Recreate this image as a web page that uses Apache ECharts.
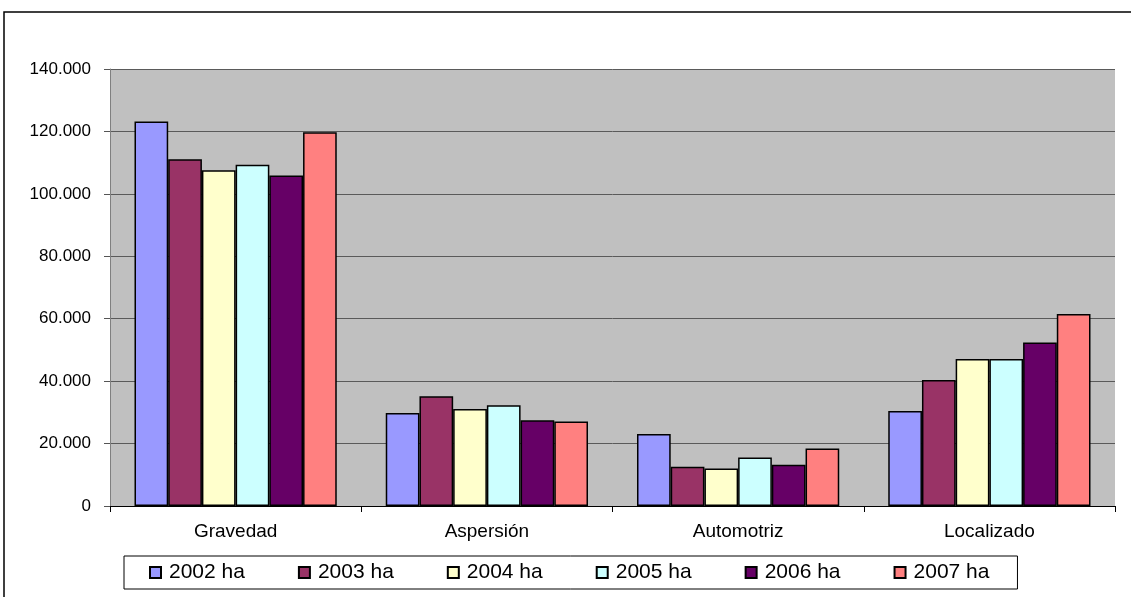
<!DOCTYPE html>
<html>
<head>
<meta charset="utf-8">
<script src="https://cdn.jsdelivr.net/npm/echarts@6/dist/echarts.min.js"></script>
<style>html,body{margin:0;padding:0;background:#fff}#c{width:1131px;height:597px}</style>
</head>
<body>
<div id="c"></div>
<script>
const categories = ['Gravedad', 'Aspersión', 'Automotriz', 'Localizado'];
const seriesNames = ['2002 ha', '2003 ha', '2004 ha', '2005 ha', '2006 ha', '2007 ha'];
const v2002 = [123200, 29800, 23100, 30400];
const v2003 = [111100, 35200, 12600, 40400];
const v2004 = [107600, 31100, 12000, 47100];
const v2005 = [109300, 32300, 15500, 47100];
const v2006 = [105900, 27500, 13200, 52400];
const v2007 = [119700, 27100, 18400, 61500];
const colors = ['#9999FF', '#993366', '#FFFFCC', '#CCFFFF', '#660066', '#FF8080'];
const yTicks = { min: 0, max: 140000, interval: 20000 };

const allValues = [v2002, v2003, v2004, v2005, v2006, v2007];
const chart = echarts.init(document.getElementById('c'), null, { renderer: 'canvas' });
chart.setOption({
  animation: false,
  backgroundColor: '#ffffff',
  graphic: [{
    type: 'rect', z: -10,
    shape: { x: 4, y: 12, width: 1140, height: 600 },
    style: { fill: 'none', stroke: '#000', lineWidth: 1.5 }
  }],
  grid: { left: 110, right: 16, top: 69, bottom: 91, show: true, backgroundColor: '#C0C0C0', borderWidth: 0 },
  legend: {
    data: seriesNames,
    left: 124, top: 556,
    padding: [6, 28, 6, 25],
    itemWidth: 11, itemHeight: 11, itemGap: 53,
    borderColor: '#000', borderWidth: 1,
    icon: 'rect',
    textStyle: { fontFamily: 'Liberation Sans, Arial', fontSize: 21, color: '#000', padding: [0, 0, 0, 3] }
  },
  xAxis: {
    type: 'category', data: categories,
    axisLine: { lineStyle: { color: '#000', width: 1 } },
    axisTick: { show: true, length: 6, lineStyle: { color: '#000' } },
    axisLabel: { fontFamily: 'Liberation Sans, Arial', fontSize: 19, color: '#000', margin: 16 }
  },
  yAxis: {
    type: 'value', min: yTicks.min, max: yTicks.max, interval: yTicks.interval,
    axisLine: { show: true, lineStyle: { color: '#808080' } },
    axisTick: { show: true, length: 6, lineStyle: { color: '#555' } },
    splitLine: { lineStyle: { color: '#5a5a5a', width: 1 } },
    axisLabel: {
      fontFamily: 'Liberation Sans, Arial', fontSize: 17, color: '#000', margin: 19,
      formatter: v => v === 0 ? '0' : v.toLocaleString('en-US').replace(/,/g, '.')
    }
  },
  series: seriesNames.map((n, i) => ({
    name: n, type: 'bar', data: allValues[i],
    barGap: '0%', barCategoryGap: '19.5%',
    itemStyle: { color: colors[i], borderColor: '#000', borderWidth: 1.5 }
  }))
});
</script>
</body>
</html>
